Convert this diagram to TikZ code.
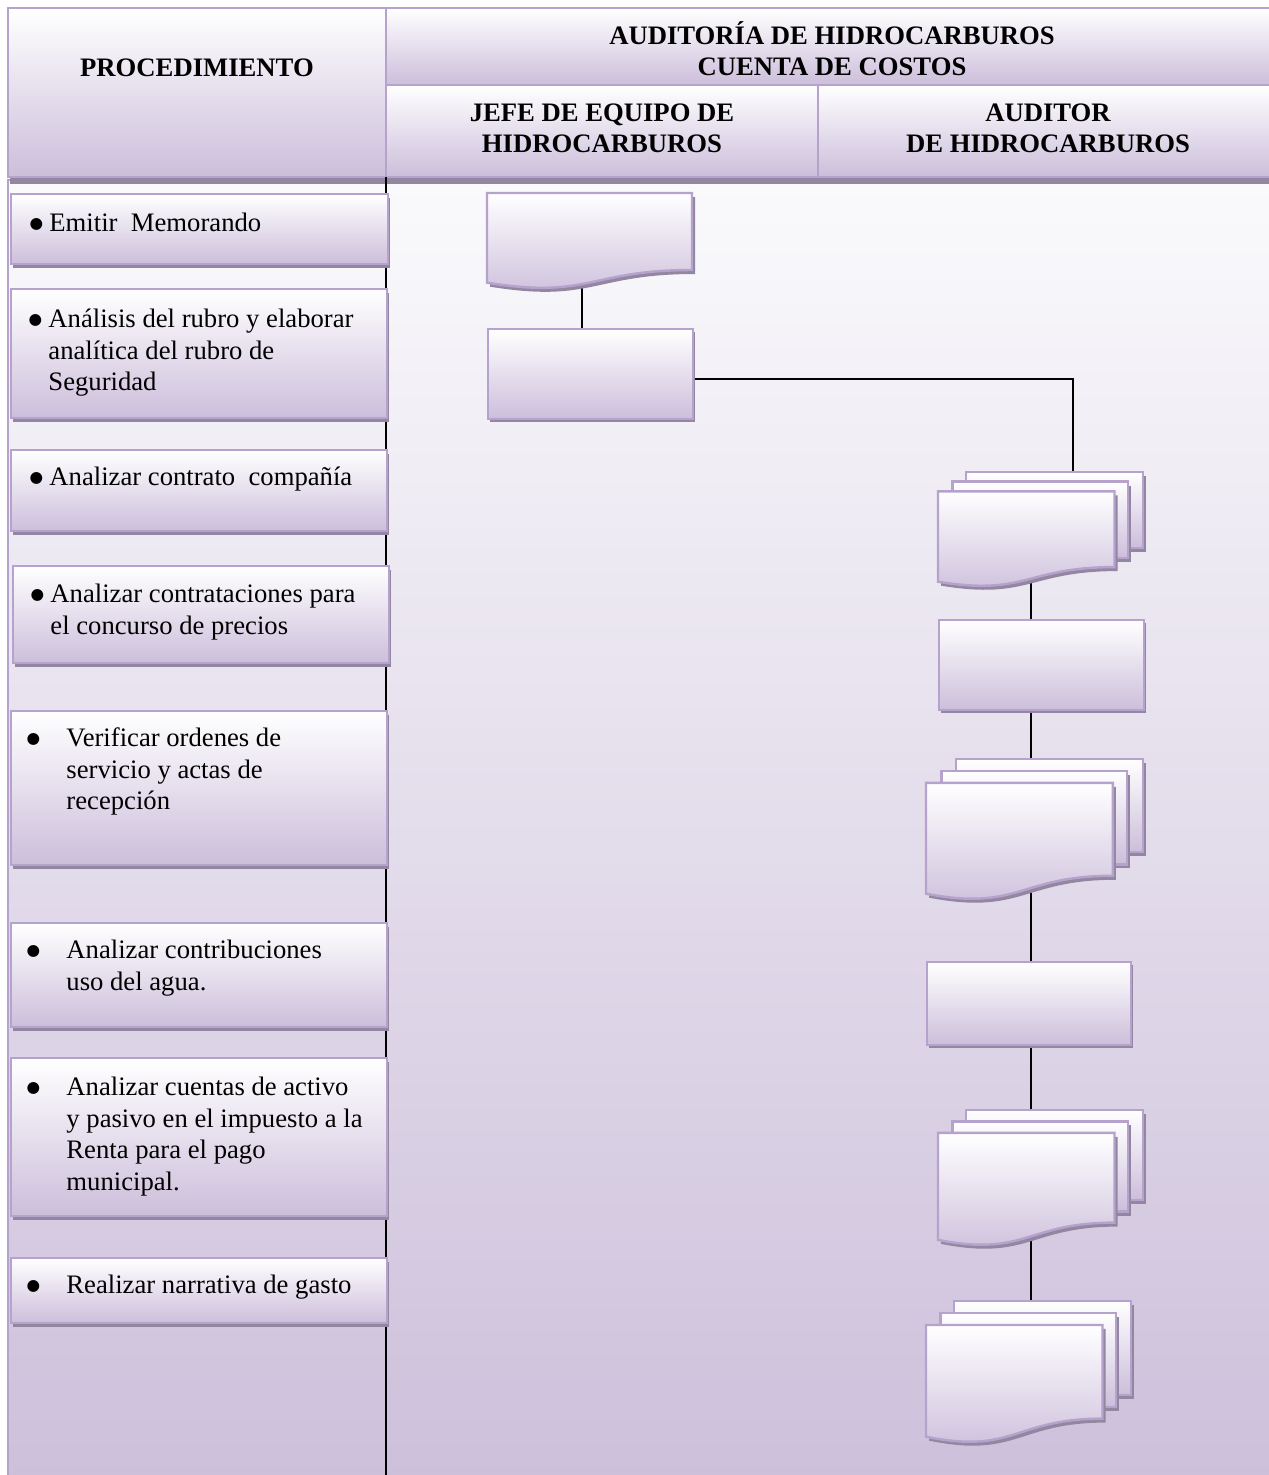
\documentclass[tikz,border=0pt]{standalone}
\usepackage{fontspec}
\setmainfont{Liberation Serif}
\newfontfamily\dotfont{DejaVu Sans}
\usetikzlibrary{calc}
\pgfdeclarelayer{back}
\pgfdeclarelayer{wires}
\pgfsetlayers{back,wires,main}
\definecolor{lav}{RGB}{204,190,219}
\definecolor{lavline}{RGB}{181,163,206}
\definecolor{dropgray}{RGB}{146,134,160}
\definecolor{bodytop}{RGB}{250,250,252}
\definecolor{bodybot}{RGB}{205,192,219}
\newcommand\px{0.45pt}
\newcommand\hd{\rule{0pt}{12pt}}
% list marker hanging left of the text, #1 = gap before the text
\newcommand\itemdot[1]{\llap{\raisebox{1.2pt}{\dotfont\fontsize{7}{7}\selectfont ●}\hspace{#1}}}
\tikzset{
  card/.style={top color=white, bottom color=lav, draw=lavline, line width=1.1pt},
  cell/.style={top color=white, bottom color=lav, draw=lavline, line width=1pt},
  cast/.style={fill=dropgray},
  conn/.style={draw=black, line width=0.9pt},
  head/.style={font=\bfseries\fontsize{12}{14}\selectfont, align=center, anchor=north, yshift=12pt, inner sep=0},
  item/.style={font=\fontsize{12}{14.2}\selectfont, align=left, anchor=north west, yshift=12pt, inner sep=0},
}
% single document outline: x, y (top left), width, height
\newcommand\docpath[4]{(#1,#2) -- (#1+#3,#2) -- (#1+#3,#2+0.802*#4) .. controls (#1+0.5*#3,#2+0.802*#4) and (#1+0.5*#3,#2+1.108*#4) .. (#1,#2+0.934*#4) -- cycle}
% front sheet of a multi-document
\newcommand\frontpath[4]{(#1,#2+0.170*#4) -- (#1+0.861*#3,#2+0.170*#4) -- (#1+0.861*#3,#2+0.834*#4) .. controls (#1+0.4305*#3,#2+0.834*#4) and (#1+0.4305*#3,#2+1.090*#4) .. (#1,#2+0.962*#4) -- cycle}
% invisible frame carrying the name of a shape
\newcommand\shapeframe[5]{\node[inner sep=0, outer sep=0, minimum width=#4*\px, minimum height=#5*\px, anchor=north west] (#1) at (#2,#3) {};}
\newcommand\docshape[5]{%
  \fill[cast, shift={(3,4)}] \docpath{#2}{#3}{#4}{#5};
  \path[card] \docpath{#2}{#3}{#4}{#5};
  \shapeframe{#1}{#2}{#3}{#4}{#5}}
\newcommand\procshape[5]{%
  \fill[cast] (#2+3,#3+4) rectangle (#2+#4+3,#3+#5+4);
  \node[card, inner sep=0, anchor=north west, minimum width=#4*\px, minimum height=#5*\px] (#1) at (#2,#3) {};}
\newcommand\mdocshape[5]{%
  \fill[cast] (#2+0.1376*#4+3,#3+4) rectangle (#2+#4+3,#3+0.666*#5+4);
  \path[card] (#2+0.1376*#4,#3) rectangle (#2+#4,#3+0.666*#5);
  \fill[cast] (#2+0.0709*#4+3,#3+0.084*#5+4) rectangle (#2+0.926*#4+3,#3+0.752*#5+4);
  \path[card] (#2+0.0709*#4,#3+0.084*#5) rectangle (#2+0.926*#4,#3+0.752*#5);
  \fill[cast, shift={(3,4)}] \frontpath{#2}{#3}{#4}{#5};
  \path[card] \frontpath{#2}{#3}{#4}{#5};
  \shapeframe{#1}{#2}{#3}{#4}{#5}}
\newcommand\leftcard[5]{%
  \fill[cast] (#2+3,#3+5) rectangle (#4+3,#5+5);
  \node[card, inner sep=0, anchor=north west, minimum width={(#4-#2)*\px}, minimum height={(#5-#3)*\px}] (#1) at (#2,#3) {};}
\begin{document}
\begin{tikzpicture}[x=0.45pt,y=-0.45pt]
\useasboundingbox (0,0) rectangle (1269,1475);

% page body and header grid
\begin{pgfonlayer}{back}
  \path[top color=bodytop, bottom color=bodybot, draw=lavline, line width=1pt] (8,180) rectangle (1274,1477);
  \fill[cast] (10,177) rectangle (1274,184);
  \path[cell] (8,8) rectangle (386,177);
  \path[cell] (386,8) rectangle (1274,85);
  \path[cell] (386,85) rectangle (818,177);
  \path[cell] (818,85) rectangle (1274,177);
\end{pgfonlayer}

\node[head] (hproc) at (197,76) {\hd PROCEDIMIENTO};
\node[head] (haud) at (832,44) {\hd AUDITORÍA DE HIDROCARBUROS\\CUENTA DE COSTOS};
\node[head] (hjefe) at (602,121) {\hd JEFE DE EQUIPO DE\\HIDROCARBUROS};
\node[head] (hauditor) at (1048,121) {\hd AUDITOR\\DE HIDROCARBUROS};

% procedure column
\leftcard{s1}{10}{193}{387}{263}
\leftcard{s2}{10}{288}{386}{417}
\leftcard{s3}{10}{449}{386}{530}
\leftcard{s4}{12}{565}{388}{662}
\leftcard{s5}{10}{710}{386}{864}
\leftcard{s6}{10}{922}{386}{1026}
\leftcard{s7}{10}{1057}{386}{1215}
\leftcard{s8}{10}{1257}{386}{1322}

\node[item] (t1) at (49,231) {\hd\itemdot{2.8pt}Emitir\ \ Memorando};
\node[item] (t2) at (48,327) {\hd\itemdot{2.8pt}Análisis del rubro y elaborar\\analítica del rubro de\\Seguridad};
\node[item] (t3) at (49,485) {\hd\itemdot{2.8pt}Analizar contrato\ \ compañía};
\node[item] (t4) at (50,602) {\hd\itemdot{2.8pt}Analizar contrataciones para\\el concurso de precios};
\node[item] (t5) at (66,746) {\hd\itemdot{11.8pt}Verificar ordenes de\\servicio y actas de\\recepción};
\node[item] (t6) at (66,958) {\hd\itemdot{11.8pt}Analizar contribuciones\\uso del agua.};
\node[item] (t7) at (66,1095) {\hd\itemdot{11.8pt}Analizar cuentas de activo\\y pasivo en el impuesto a la\\Renta para el pago\\municipal.};
\node[item] (t8) at (66,1293) {\hd\itemdot{11.8pt}Realizar narrativa de gasto};

% flow shapes
\docshape{doc1}{487}{193}{205}{96}
\procshape{p1}{487}{328}{205}{90}
\mdocshape{md1}{938}{472}{205}{114}
\procshape{p2}{938}{619}{205}{90}
\mdocshape{md2}{926}{759}{217}{140}
\procshape{p3}{926}{961}{204}{83}
\mdocshape{md3}{938}{1110}{205}{135}
\mdocshape{md4}{926}{1301}{205}{141}

\coordinate (lane1) at (582,0);
\coordinate (lane2) at (1031,0);
\coordinate (turn) at (1073,0);

% connectors run beneath the shapes
\begin{pgfonlayer}{wires}
  \draw[conn] (386,177) -- (386,1477);
  \draw[conn] (lane1 |- doc1.center) -- (lane1 |- p1.center);
  \draw[conn] ([yshift=-2.25pt]p1.center) -| (turn |- md1.center);
  \draw[conn] (lane2 |- md1.center) -- (lane2 |- p2.center);
  \draw[conn] (lane2 |- p2.center) -- (lane2 |- md2.center);
  \draw[conn] (lane2 |- md2.center) -- (lane2 |- p3.center);
  \draw[conn] (lane2 |- p3.center) -- (lane2 |- md3.center);
  \draw[conn] (lane2 |- md3.center) -- (lane2 |- md4.center);
\end{pgfonlayer}
\end{tikzpicture}
\end{document}
